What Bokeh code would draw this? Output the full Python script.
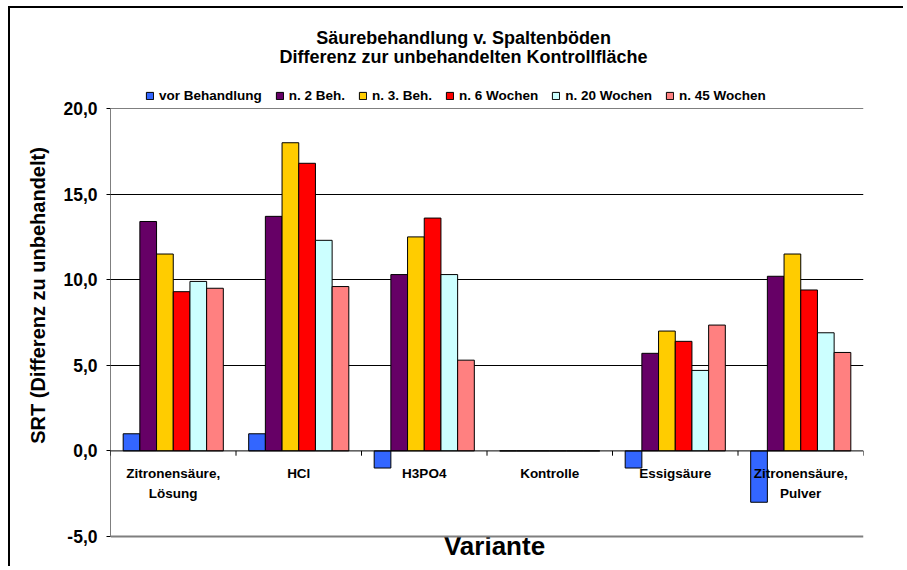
from bokeh.plotting import figure
from bokeh.models import (FactorRange, Range1d, FixedTicker, CustomJSTickFormatter,
                          Span, Legend, LegendItem, ColumnDataSource)
from bokeh.transform import dodge
from bokeh.core.properties import value
from bokeh.embed import file_html
from bokeh.resources import INLINE

# ---- data ----
categories = ["Zitronensäure,\nLösung", "HCl", "H3PO4", "Kontrolle", "Essigsäure", "Zitronensäure,\nPulver"]
series_names = ["vor Behandlung", "n. 2 Beh.", "n. 3. Beh.", "n. 6 Wochen", "n. 20 Wochen", "n. 45 Wochen"]
vor_behandlung = [1.0, 1.0, -1.0, 0.0, -1.0, -3.0]
n2_beh = [13.4, 13.7, 10.3, 0.0, 5.7, 10.2]
n3_beh = [11.5, 18.0, 12.5, 0.0, 7.0, 11.5]
n6_wochen = [9.3, 16.8, 13.6, 0.0, 6.4, 9.4]
n20_wochen = [9.9, 12.3, 10.3, 0.0, 4.7, 6.9]
n45_wochen = [9.5, 9.6, 5.3, 0.0, 7.35, 5.75]
y_ticks = [-5, 0, 5, 10, 15, 20]

title_line1 = "Säurebehandlung v. Spaltenböden"
title_line2 = "Differenz zur unbehandelten Kontrollfläche"
x_label = "Variante"
y_label = "SRT (Differenz zu unbehandelt)"

colors = ["#3366FF", "#660066", "#FFCC00", "#FF0000", "#CCFFFF", "#FF8080"]
FONT = "Liberation Sans"

keys = [c.replace("\n", " ") for c in categories]
series = [vor_behandlung, n2_beh, n3_beh, n6_wochen, n20_wochen, n45_wochen]
data = {"cat": keys}
for i, s in enumerate(series):
    data["s%d" % i] = s
src = ColumnDataSource(data)

# ---- layout (pixels) ----
W, H = 895, 560
F_LEFT, F_RIGHT, F_TOP = 100, 853, 14          # frame edges on the canvas
Y20_PX, YM5_PX = 100, 528                       # canvas rows of the 20 and -5 ticks
ppu = (YM5_PX - Y20_PX) / 25.0
y_end = 20 + (Y20_PX - F_TOP) / ppu
y_start = -5 - (H - YM5_PX) / ppu

p = figure(x_range=FactorRange(*keys, range_padding=0), y_range=Range1d(y_start, y_end),
           width=W, height=H, output_backend="svg", toolbar_location=None,
           x_axis_location=None,
           min_border_left=F_LEFT, min_border_right=W - F_RIGHT, min_border_top=F_TOP,
           min_border_bottom=0)
p.styles = {"border-top": "2px solid black", "border-left": "2px solid black",
            "margin-left": "8px", "margin-top": "6px"}
p.outline_line_color = None
p.background_fill_color = "white"

# grid
p.xgrid.visible = False
p.ygrid.ticker = FixedTicker(ticks=[5, 10, 15])
p.ygrid.grid_line_color = "black"
p.ygrid.grid_line_width = 1

# y axis
ya = p.yaxis[0]
ya.ticker = FixedTicker(ticks=y_ticks)
ya.formatter = CustomJSTickFormatter(code="return tick.toFixed(1).replace('.', ',');")
ya.major_tick_out = 4
ya.major_tick_in = 0
ya.minor_tick_line_color = None
ya.axis_line_color = None
ya.major_tick_line_color = "black"
ya.major_label_text_font = FONT
ya.major_label_text_font_style = "bold"
ya.major_label_text_font_size = "17.5px"
ya.major_label_text_color = "black"
ya.major_label_standoff = 9
ya.axis_label = y_label
ya.axis_label_standoff = 11
ya.axis_label_text_font = FONT
ya.axis_label_text_font_style = "bold"
ya.axis_label_text_font_size = "20px"
ya.axis_label_text_color = "black"

# axis line from -5 to 20
p.segment(x0=[0], y0=[y_ticks[0]], x1=[0], y1=[y_ticks[-1]], line_color="black", line_width=1)

# top border (20), bottom line (-5)
p.add_layout(Span(location=y_ticks[-1], dimension="width", line_color="#7f7f7f", line_width=1))
p.add_layout(Span(location=y_ticks[0], dimension="width", line_color="#7f7f7f", line_width=2))

# bars
n = len(series)
bw = 0.133
renderers = []
for i in range(n):
    off = (i - (n - 1) / 2) * bw
    r = p.vbar(x=dodge("cat", off, range=p.x_range), top="s%d" % i, bottom=0, width=bw,
               source=src, fill_color=colors[i], line_color="black", line_width=1)
    renderers.append(r)

# zero line on top of the bars' bases
p.add_layout(Span(location=0, dimension="width", line_color="black", line_width=1, level="overlay"))

# category tick marks on the zero line
nb = len(keys) + 1
p.segment(x0=list(range(nb)), y0=[0] * nb, x1=list(range(nb)), y1=[-0.28] * nb,
          line_color="black", line_width=1)

# category labels below the zero line
p.text(x=keys, y=[-0.90] * len(keys), text=categories, text_align="center", text_baseline="top",
       text_font=value(FONT), text_font_style="bold", text_font_size="13.5px",
       text_color="black", text_line_height=1.3)

# x axis title
p.text(x=[3.06], y=[-5.58], text=[x_label], text_align="center", text_baseline="middle",
       text_font=value(FONT), text_font_style="bold", text_font_size="26px", text_color="black")

# chart titles
p.text(x=[2.813, 2.813], y=[24.09, 22.98], text=[title_line1, title_line2],
       text_align="center", text_baseline="middle",
       text_font=value(FONT), text_font_style="bold", text_font_size="18px", text_color="black")

# legend
legend = Legend(items=[LegendItem(label=series_names[i], renderers=[renderers[i]]) for i in range(n)],
                orientation="horizontal", location=(35, 465),
                glyph_width=9, glyph_height=9, label_standoff=5, spacing=13,
                padding=0, margin=0, border_line_color=None, background_fill_alpha=0,
                label_text_font=FONT, label_text_font_style="bold", label_text_font_size="13.5px",
                label_height=14, label_text_color="black")
p.add_layout(legend, "center")

open("out.html", "w").write(file_html(p, INLINE))
